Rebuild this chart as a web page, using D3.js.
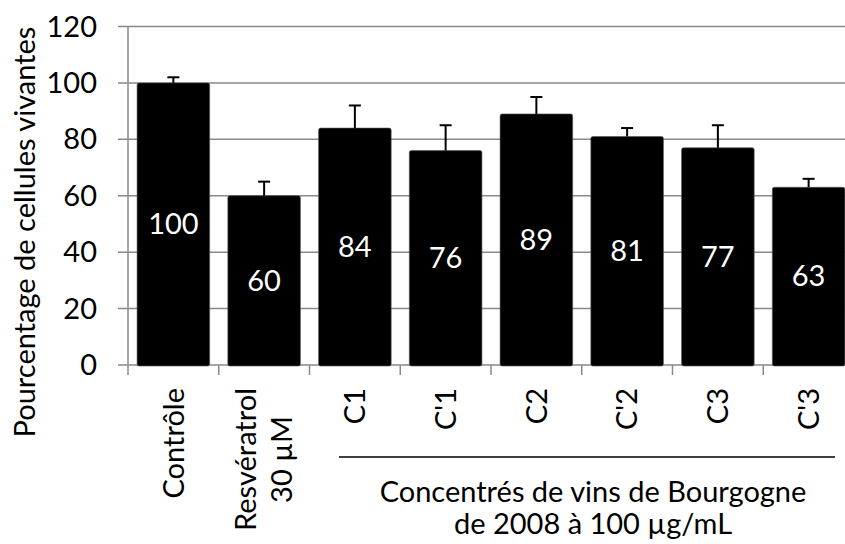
<!DOCTYPE html>
<html>
<head>
<meta charset="utf-8">
<script src="https://cdn.jsdelivr.net/npm/d3@7"></script>
<style>
  body { margin: 0; background: #fff; }
  text { font-family: Lato, "Open Sans", sans-serif; }
</style>
</head>
<body>
<div id="chart"></div>
<script>
// data
var categories = ["Contrôle", "Resvératrol|30 µM", "C1", "C'1", "C2", "C'2", "C3", "C'3"];
var values = [100, 60, 84, 76, 89, 81, 77, 63];
var errors = [2, 5, 8, 9, 6, 3, 8, 3];
var yTicks = [0, 20, 40, 60, 80, 100, 120];
var yTitle = "Pourcentage de cellules vivantes";
var groupTitle = ["Concentrés de vins de Bourgogne", "de 2008 à 100 µg/mL"];
var groupFrom = "C1", groupTo = "C'3";

var W = 845, H = 544;
var fs = 29;

var svg = d3.select("#chart").append("svg")
    .attr("width", W)
    .attr("height", H);

var x = d3.scaleBand()
    .domain(categories)
    .range([128, 854])
    .paddingInner(0.2)
    .paddingOuter(0.1);

var y = d3.scaleLinear()
    .domain([0, 120])
    .range([365, 26.5]);

// gridlines
svg.append("g")
  .selectAll("line")
  .data(yTicks)
  .enter().append("line")
    .attr("x1", 118)
    .attr("x2", 854)
    .attr("y1", function(d) { return y(d); })
    .attr("y2", function(d) { return y(d); })
    .attr("stroke", "#898989")
    .attr("stroke-width", 1.5);

// y axis line
svg.append("line")
    .attr("x1", 128).attr("x2", 128)
    .attr("y1", y(120)).attr("y2", y(0))
    .attr("stroke", "#898989")
    .attr("stroke-width", 1.5);

// y tick labels
svg.append("g")
  .selectAll("text")
  .data(yTicks)
  .enter().append("text")
    .attr("x", 97)
    .attr("y", function(d) { return y(d); })
    .attr("dy", "0.35em")
    .attr("text-anchor", "end")
    .attr("font-size", fs)
    .text(function(d) { return d; });

// bottom ticks at band edges
var edges = categories.map(function(c) { return x(c) - x.step() * x.paddingInner() / 2; });
edges.push(854);
svg.append("g")
  .selectAll("line")
  .data(edges)
  .enter().append("line")
    .attr("x1", function(d) { return d; })
    .attr("x2", function(d) { return d; })
    .attr("y1", y(0))
    .attr("y2", y(0) + 10)
    .attr("stroke", "#898989")
    .attr("stroke-width", 1.5);

// bars
svg.append("g")
  .selectAll("rect")
  .data(values)
  .enter().append("rect")
    .attr("x", function(d, i) { return x(categories[i]); })
    .attr("width", x.bandwidth())
    .attr("y", function(d) { return y(d); })
    .attr("height", function(d) { return y(0) - y(d) + 1; })
    .attr("rx", 2)
    .attr("fill", "#000")
    .attr("stroke", "#555")
    .attr("stroke-width", 0.6);

// error bars (upper only)
var err = svg.append("g")
  .selectAll("g")
  .data(values)
  .enter().append("g")
    .attr("stroke", "#000")
    .attr("stroke-width", 2);

err.append("line")
    .attr("x1", function(d, i) { return x(categories[i]) + x.bandwidth() / 2; })
    .attr("x2", function(d, i) { return x(categories[i]) + x.bandwidth() / 2; })
    .attr("y1", function(d) { return y(d); })
    .attr("y2", function(d, i) { return y(d + errors[i]); });

err.append("line")
    .attr("x1", function(d, i) { return x(categories[i]) + x.bandwidth() / 2 - 6; })
    .attr("x2", function(d, i) { return x(categories[i]) + x.bandwidth() / 2 + 6; })
    .attr("y1", function(d, i) { return y(d + errors[i]); })
    .attr("y2", function(d, i) { return y(d + errors[i]); });

// value labels inside bars
svg.append("g")
  .selectAll("text")
  .data(values)
  .enter().append("text")
    .attr("x", function(d, i) { return x(categories[i]) + x.bandwidth() / 2; })
    .attr("y", function(d) { return (y(d) + y(0)) / 2; })
    .attr("dy", "0.35em")
    .attr("text-anchor", "middle")
    .attr("font-size", fs)
    .attr("fill", "#fff")
    .text(function(d) { return d; });

// category labels, rotated, top edge at y = 388
var labelTop = 388;
categories.forEach(function(c) {
  var lines = c.split("|");
  var cx = x(c) + x.bandwidth() / 2;
  var lh = 36;
  var g = svg.append("g");
  var texts = lines.map(function(l, k) {
    return g.append("text")
      .attr("font-size", fs)
      .attr("text-anchor", "middle")
      .attr("dy", "0.35em")
      .text(l);
  });
  var longest = d3.max(texts, function(t) { return t.node().getComputedTextLength(); });
  var midY = labelTop + longest / 2;
  texts.forEach(function(t, k) {
    var lx = cx + (k - (lines.length - 1) / 2) * lh;
    t.attr("transform", "translate(" + lx + "," + midY + ") rotate(-90)");
  });
});

// y axis title
svg.append("text")
    .attr("transform", "translate(35,232) rotate(-90)")
    .attr("text-anchor", "middle")
    .attr("font-size", fs)
    .text(yTitle);

// group bracket and title
svg.append("line")
    .attr("x1", 339).attr("x2", 835)
    .attr("y1", 457).attr("y2", 457)
    .attr("stroke", "#000")
    .attr("stroke-width", 1.5);

svg.append("g")
  .selectAll("text")
  .data(groupTitle)
  .enter().append("text")
    .attr("x", 593)
    .attr("y", function(d, i) { return 502 + i * 32; })
    .attr("text-anchor", "middle")
    .attr("font-size", fs)
    .text(function(d) { return d; });
</script>
</body>
</html>
